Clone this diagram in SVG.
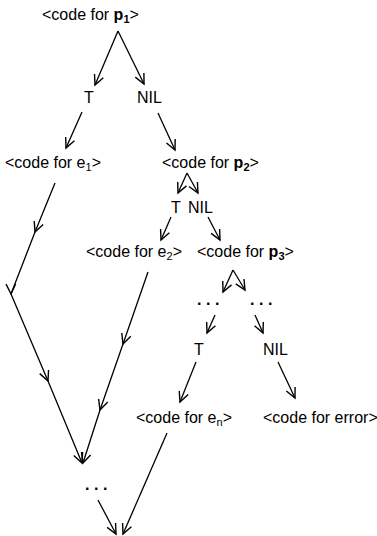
<svg xmlns="http://www.w3.org/2000/svg" width="377" height="536" viewBox="0 0 377 536">
<style>
text{font-family:"Liberation Sans",Arial,sans-serif;font-size:16px;fill:#000}
.b{font-weight:bold}
.s{font-size:11px}
.dots{letter-spacing:4.5px;font-weight:bold}
.c line,.c polyline{stroke:#000;stroke-width:1.3;fill:none;marker-end:url(#ah)}
.c polyline{marker-mid:url(#ah)}
</style>
<defs>
<marker id="ah" viewBox="-11 -6 13 12" markerWidth="13" markerHeight="12" refX="0" refY="0" orient="auto" markerUnits="userSpaceOnUse">
<path d="M-10,-4.8 L0,0 L-10,4.8" fill="none" stroke="#000" stroke-width="1.4"/>
</marker>
</defs>
<rect width="377" height="536" fill="#fff"/>
<g id="p1"><text x="42" y="20">&lt;code for <tspan class="b">p</tspan><tspan class="s b" dy="3">1</tspan><tspan dy="-3">&gt;</tspan></text></g>
<g id="t1"><text x="84" y="103">T</text></g>
<g id="nil1"><text x="137" y="103">NIL</text></g>
<g id="e1"><text x="5" y="168">&lt;code for e<tspan class="s" dy="3">1</tspan><tspan dy="-3">&gt;</tspan></text></g>
<g id="p2"><text x="162" y="168">&lt;code for <tspan class="b">p</tspan><tspan class="s b" dy="3">2</tspan><tspan dy="-3">&gt;</tspan></text></g>
<g id="t2"><text x="171" y="213">T</text></g>
<g id="nil2"><text x="188" y="213">NIL</text></g>
<g id="e2"><text x="86" y="257">&lt;code for e<tspan class="s" dy="3">2</tspan><tspan dy="-3">&gt;</tspan></text></g>
<g id="p3"><text x="197" y="257">&lt;code for <tspan class="b">p</tspan><tspan class="s b" dy="3">3</tspan><tspan dy="-3">&gt;</tspan></text></g>
<g id="dots1"><text class="dots" x="197" y="305">...</text></g>
<g id="dots2"><text class="dots" x="250" y="305">...</text></g>
<g id="t3"><text x="194" y="355">T</text></g>
<g id="nil3"><text x="263" y="355">NIL</text></g>
<g id="en"><text x="136" y="423">&lt;code for e<tspan class="s" dy="3">n</tspan><tspan dy="-3">&gt;</tspan></text></g>
<g id="err"><text x="263" y="423">&lt;code for error&gt;</text></g>
<g id="dots3"><text class="dots" x="85" y="490">...</text></g>
<g id="connectors" class="c">
<line x1="118" y1="31" x2="95" y2="85"/>
<line x1="118" y1="31" x2="144" y2="84"/>
<line x1="82" y1="112" x2="66" y2="148"/>
<line x1="158" y1="113" x2="175" y2="150"/>
<line x1="187" y1="173" x2="178" y2="193"/>
<line x1="187" y1="173" x2="198" y2="193"/>
<line x1="171" y1="217" x2="161" y2="240"/>
<line x1="208" y1="217" x2="220" y2="240"/>
<line x1="233" y1="270" x2="223" y2="292"/>
<line x1="233" y1="270" x2="245" y2="290"/>
<line x1="215" y1="315" x2="207" y2="333"/>
<line x1="255" y1="315" x2="263" y2="333"/>
<line x1="196" y1="362" x2="180" y2="402"/>
<line x1="278" y1="362" x2="295" y2="398"/>
<polyline points="55,183 35,232 11,294 48,381 82,463"/>
<polyline points="148,272 123,344 100,410 83,463"/>
<line x1="98" y1="500" x2="116" y2="534"/>
<line x1="167" y1="433" x2="123" y2="534"/>
</g>
</svg>
